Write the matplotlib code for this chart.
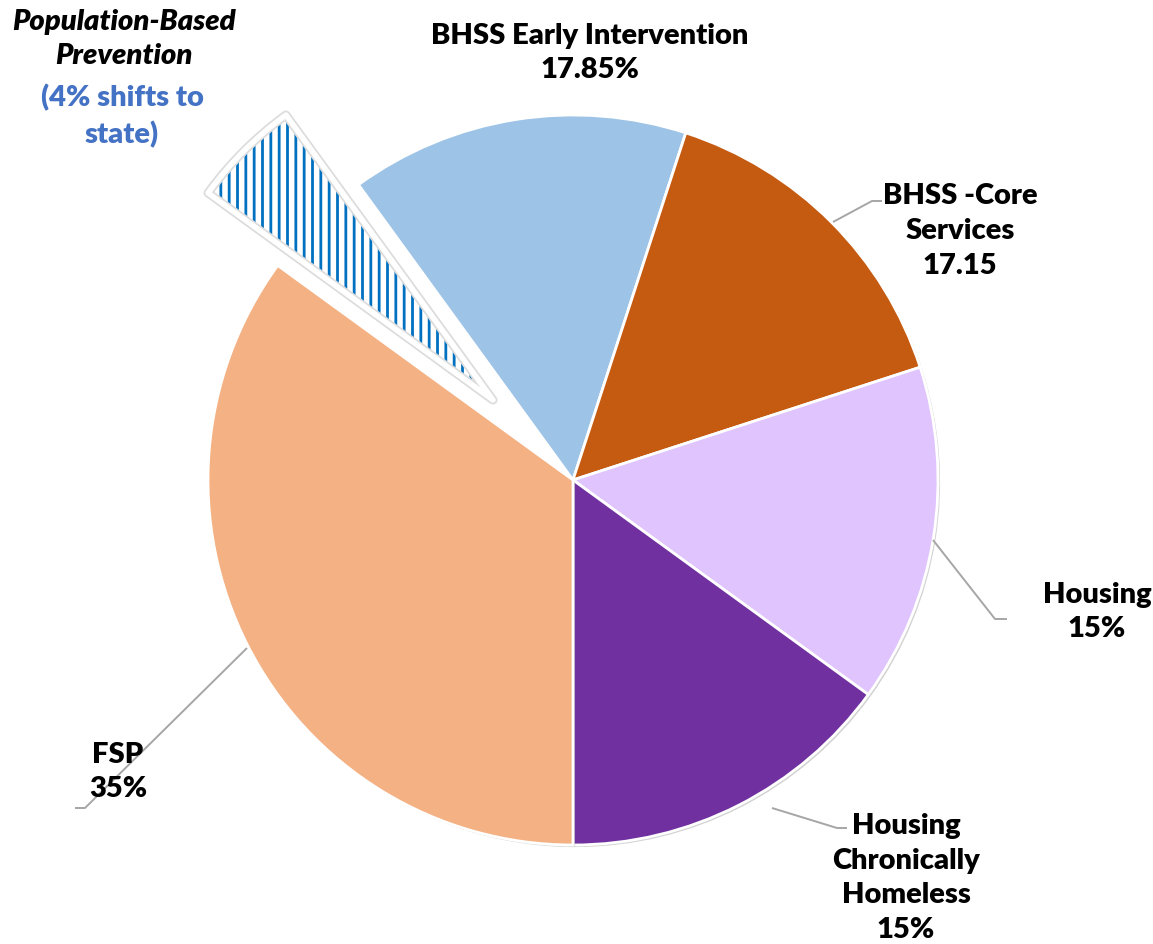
import matplotlib.pyplot as plt
import matplotlib.patheffects as pe
from matplotlib.patches import Wedge

plt.rcParams['font.family'] = ['Lato', 'DejaVu Sans']
plt.rcParams['hatch.linewidth'] = 2.0

# slice sizes as drawn (percent of circle), clockwise from the exploded slice
names = ['Population-Based Prevention', 'BHSS Early Intervention', 'BHSS -Core Services',
         'Housing', 'Housing Chronically Homeless', 'FSP']
shares = [5, 15, 15, 15, 15, 35]
colors = ['white', '#9DC3E6', '#C55A11', '#DFC4FD', '#7030A0', '#F4B183']

W, H = 1153, 944
cx, cy, R = 573, H - 480, 365
explode = [0.31 * R, 0, 0, 0, 0, 0]

fig = plt.figure(figsize=(W / 100, H / 100), dpi=100)
ax = fig.add_axes([0, 0, 1, 1])

wedges, _ = ax.pie(shares, colors=colors, explode=explode, startangle=144,
                   counterclock=False, center=(cx, cy), radius=R,
                   wedgeprops=dict(edgecolor='white', linewidth=2))
ax.set_xlim(0, W)
ax.set_ylim(0, H)
ax.set_aspect('equal')
ax.axis('off')

shadow = [pe.SimplePatchShadow(offset=(1.5, -1.5), shadow_rgbFace='#7f7f7f', alpha=0.35),
          pe.Normal()]
for w in wedges[1:]:
    w.set_path_effects(shadow)

# exploded hatched slice: blue hatch, white rim with soft grey edge
pw = wedges[0]
pw.set_radius(R * 0.965)
pw.set_edgecolor('#0070C0')
pw.set_linewidth(0)
pw.set_hatch('||')
rim = Wedge(pw.center, pw.r, pw.theta1, pw.theta2, fill=False,
            edgecolor='white', linewidth=4, joinstyle='round',
            zorder=pw.get_zorder() + 0.1)
rim.set_path_effects([pe.Stroke(linewidth=6.5, foreground='#dcdcdc', joinstyle='round'),
                      pe.Normal()])
ax.add_patch(rim)

lc = '#A6A6A6'


def leader(pts):
    xs = [p[0] for p in pts]
    ys = [H - p[1] for p in pts]
    ax.plot(xs, ys, color=lc, lw=1.4, solid_capstyle='butt')


leader([(833, 222), (872, 201), (882, 201)])
leader([(933, 540), (995, 619), (1007, 619)])
leader([(772, 808), (837, 828), (847, 828)])
leader([(247, 648), (85, 808), (75, 808)])

fs = 21
ls = 1.42
kw = dict(ha='center', va='center', fontsize=fs, fontweight='heavy', linespacing=ls)
ax.text(124, H - 39, 'Population-Based\nPrevention', style='italic', color='black', **kw)
ax.text(122, H - 116, '(4% shifts to\nstate)', color='#4472C4', **kw)
ax.text(590, H - 53, 'BHSS Early Intervention\n17.85%', **kw)
ax.text(960, H - 231, 'BHSS -Core\nServices\n17.15', **kw)
ax.text(1097, H - 612, 'Housing\n15%', **kw)
ax.text(906, H - 878, 'Housing\nChronically\nHomeless\n15%', **kw)
ax.text(118, H - 772, 'FSP\n35%', **kw)

fig.savefig('out.png', dpi=100)
